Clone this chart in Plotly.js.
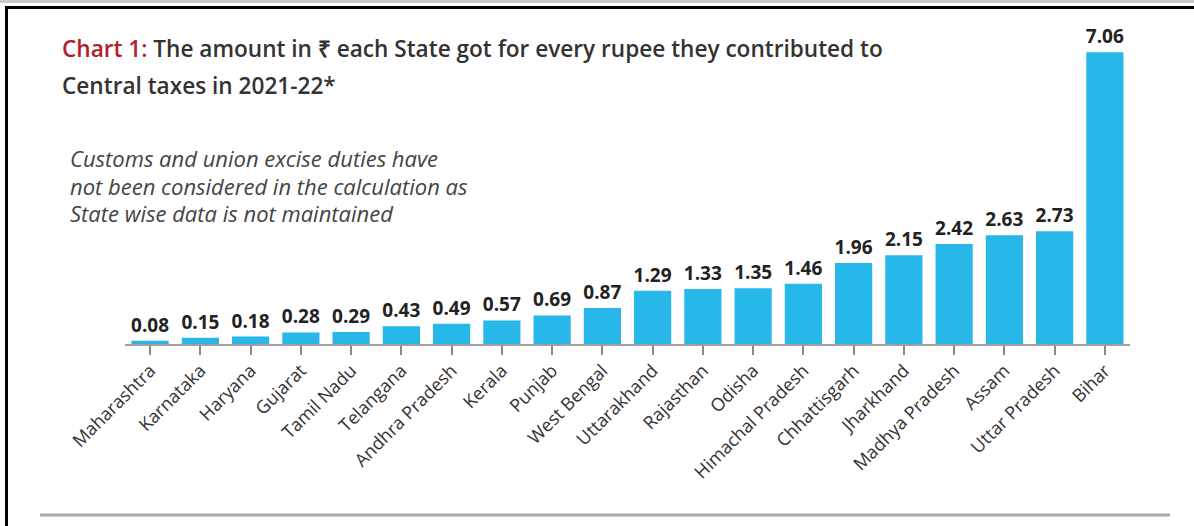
<!DOCTYPE html>
<html>
<head>
<meta charset="utf-8">
<script src="https://cdn.plot.ly/plotly-3.0.1.min.js"></script>
<style>
html,body{margin:0;padding:0;background:#fff;}
#chart{width:1194px;height:526px;}
</style>
</head>
<body>
<div id="chart"></div>
<script>
const states = ["Maharashtra","Karnataka","Haryana","Gujarat","Tamil Nadu","Telangana","Andhra Pradesh","Kerala","Punjab","West Bengal","Uttarakhand","Rajasthan","Odisha","Himachal Pradesh","Chhattisgarh","Jharkhand","Madhya Pradesh","Assam","Uttar Pradesh","Bihar"];
const amounts = [0.08,0.15,0.18,0.28,0.29,0.43,0.49,0.57,0.69,0.87,1.29,1.33,1.35,1.46,1.96,2.15,2.42,2.63,2.73,7.06];
const titleLine1 = '<span style="color:#b3202a">Chart 1:</span> The amount in ₹ each State got for every rupee they contributed to';
const titleLine2 = 'Central taxes in 2021-22*';
const noteLines = ["Customs and union excise duties have","not been considered in the calculation as","State wise data is not maintained"];

const W = 1194, H = 526;
const M = {l:125, r:64, t:34, b:182};
const pw = W - M.l - M.r, ph = H - M.t - M.b;
const px = x => (x - M.l) / pw;
const py = y => (H - M.b - y) / ph;

const annotations = [
  {text: titleLine1, x: px(60), y: py(48), xref:'paper', yref:'paper', xanchor:'left', yanchor:'middle', showarrow:false, font:{family:'Open Sans', size:22.6, color:'#333', weight:600}},
  {text: titleLine2, x: px(60), y: py(85), xref:'paper', yref:'paper', xanchor:'left', yanchor:'middle', showarrow:false, font:{family:'Open Sans', size:22.6, color:'#333', weight:600}}
];
noteLines.forEach((t,i) => annotations.push({
  text: '<i>' + t + '</i>', x: px(68), y: py(158 + i*27.5), xref:'paper', yref:'paper', xanchor:'left', yanchor:'middle', showarrow:false, font:{family:'Open Sans', size:22, color:'#444'}
}));

const shapes = [
  {type:'rect', xref:'paper', yref:'paper', x0:px(0), x1:px(W), y0:py(0), y1:py(3), fillcolor:'#c9c9c9', line:{width:0}},
  {type:'line', xref:'paper', yref:'paper', x0:px(5), x1:px(W), y0:py(7.5), y1:py(7.5), line:{color:'#000', width:3}},
  {type:'line', xref:'paper', yref:'paper', x0:px(6.5), x1:px(6.5), y0:py(6), y1:py(H), line:{color:'#000', width:3}},
  {type:'line', xref:'paper', yref:'paper', x0:px(40), x1:px(1170), y0:py(515), y1:py(515), line:{color:'#aaa', width:3}}
];

Plotly.newPlot('chart', [{
  type:'bar', x: states, y: amounts,
  marker:{color:'#27b7e8'},
  text: amounts.map(v => v.toFixed(2)), textposition:'outside', constraintext:'none', cliponaxis:false,
  textfont:{family:'Open Sans', size:19, color:'#222', weight:700},
  hoverinfo:'x+y'
}], {
  width: W, height: H, margin: M,
  paper_bgcolor:'#fff', plot_bgcolor:'#fff',
  bargap: 0.26, showlegend:false,
  xaxis:{tickangle:-45, ticks:'outside', ticklen:9, tickwidth:2, tickcolor:'#888', showline:true, linecolor:'#aa9c9c', linewidth:2,
         ticklabelstandoff:-2,
         tickfont:{family:'Open Sans', size:18, color:'#333'}, showgrid:false, fixedrange:true},
  yaxis:{range:[0,7.5], visible:false, showgrid:false, zeroline:false, fixedrange:true},
  annotations, shapes
}, {displayModeBar:false, staticPlot:true});
</script>
</body>
</html>
